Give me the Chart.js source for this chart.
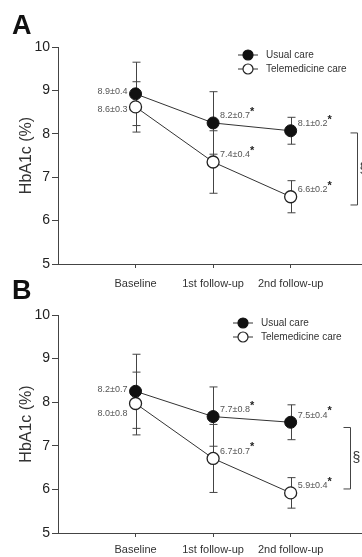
<!DOCTYPE html>
<html>
<head>
<meta charset="utf-8">
<script src="https://cdn.jsdelivr.net/npm/chart.js@4"></script>
<style>
  html, body { margin: 0; padding: 0; background: #fff; overflow: hidden; }
  #wrap { position: relative; width: 362px; height: 557px; }
  canvas { position: absolute; left: 0; }
  .tag { position: absolute; left: 12px; font: bold 27px "Liberation Sans", Arial, sans-serif; color: #111; line-height: 31px; }
</style>
</head>
<body>
<div id="wrap">
  <canvas id="chartA" width="362" height="300" style="top:0"></canvas>
  <canvas id="chartB" width="362" height="289" style="top:268px"></canvas>
  <div class="tag" style="top:10px">A</div>
  <div class="tag" style="top:275px">B</div>
</div>
<script>
const categories = ['Baseline', '1st follow-up', '2nd follow-up'];
const seriesNames = ['Usual care', 'Telemedicine care'];
const significant = [false, true, true];

// panel A
const usualA = [8.92, 8.25, 8.07];
const usualErrA = [0.73, 0.72, 0.31];
const teleA = [8.62, 7.35, 6.55];
const teleErrA = [0.58, 0.72, 0.37];
const usualLabelsA = ['8.9±0.4', '8.2±0.7', '8.1±0.2'];
const teleLabelsA = ['8.6±0.3', '7.4±0.4', '6.6±0.2'];
const bracketA = [8.02, 6.36];

// panel B
const usualB = [8.25, 7.67, 7.54];
const usualErrB = [0.85, 0.68, 0.40];
const teleB = [7.97, 6.71, 5.92];
const teleErrB = [0.72, 0.78, 0.35];
const usualLabelsB = ['8.2±0.7', '7.7±0.8', '7.5±0.4'];
const teleLabelsB = ['8.0±0.8', '6.7±0.7', '5.9±0.4'];
const bracketB = [7.42, 6.01];

const FONT = '"Liberation Sans", Arial, sans-serif';

const errorBars = {
  id: 'errorBars',
  beforeDatasetsDraw(chart) {
    const { ctx, scales: { x, y } } = chart;
    ctx.save();
    ctx.strokeStyle = '#444';
    ctx.lineWidth = 1;
    chart.data.datasets.forEach(ds => {
      ds.errors.forEach((e, i) => {
        const v = ds.data[i].y;
        const px = Math.round(x.getPixelForValue(i)) + 0.5;
        const hi = y.getPixelForValue(v + e), lo = y.getPixelForValue(v - e);
        ctx.beginPath();
        ctx.moveTo(px, hi); ctx.lineTo(px, lo);
        ctx.moveTo(px - 4, hi); ctx.lineTo(px + 4, hi);
        ctx.moveTo(px - 4, lo); ctx.lineTo(px + 4, lo);
        ctx.stroke();
      });
    });
    ctx.restore();
  }
};

const annotations = {
  id: 'annotations',
  afterDatasetsDraw(chart, args, opts) {
    const { ctx, scales: { x, y }, chartArea } = chart;
    ctx.save();
    // value labels
    chart.data.datasets.forEach((ds, di) => {
      ds.valueLabels.forEach((txt, i) => {
        const px = x.getPixelForValue(i), py = y.getPixelForValue(ds.data[i].y);
        ctx.font = '9px ' + FONT;
        ctx.fillStyle = '#555';
        ctx.textBaseline = 'middle';
        if (i === 0) {
          ctx.textAlign = 'right';
          ctx.fillText(txt, px - 8, py + (di === 0 ? -2 : opts.baseTeleDy));
        } else {
          ctx.textAlign = 'left';
          const tx = px + 7, ty = py - 7;
          ctx.fillText(txt, tx, ty);
          if (significant[i]) {
            const w = ctx.measureText(txt).width;
            ctx.font = 'bold 11px ' + FONT;
            ctx.fillStyle = '#222';
            ctx.fillText('*', tx + w, ty - 4);
          }
        }
      });
    });

    // legend
    const lx = opts.legendX;
    chart.data.datasets.forEach((ds, di) => {
      const ly = chartArea.top + 8 + di * 14;
      ctx.strokeStyle = '#333';
      ctx.lineWidth = 1;
      ctx.beginPath();
      ctx.moveTo(lx - 10, ly); ctx.lineTo(lx + 10, ly);
      ctx.stroke();
      ctx.beginPath();
      ctx.arc(lx, ly, 5, 0, Math.PI * 2);
      ctx.fillStyle = ds.pointBackgroundColor;
      ctx.fill();
      ctx.strokeStyle = ds.pointBorderColor;
      ctx.lineWidth = 1.2;
      ctx.stroke();
      ctx.font = '10px ' + FONT;
      ctx.fillStyle = '#333';
      ctx.textAlign = 'left';
      ctx.textBaseline = 'middle';
      ctx.fillText(ds.label, lx + 18, ly);
    });

    // significance bracket
    const bx = Math.round(x.getPixelForValue(opts.bracketX)) + 0.5;
    const bt = y.getPixelForValue(opts.bracket[0]), bb = y.getPixelForValue(opts.bracket[1]);
    ctx.strokeStyle = '#444';
    ctx.lineWidth = 1;
    ctx.beginPath();
    ctx.moveTo(bx - 7, bt); ctx.lineTo(bx, bt); ctx.lineTo(bx, bb); ctx.lineTo(bx - 7, bb);
    ctx.stroke();
    ctx.font = '14px ' + FONT;
    ctx.fillStyle = '#333';
    ctx.textAlign = 'left';
    ctx.textBaseline = 'middle';
    ctx.fillText('§', bx + 2, (bt + bb) / 2);
    ctx.restore();
  }
};

function buildPanel(id, p) {
  const toPts = arr => arr.map((v, i) => ({ x: i, y: v }));
  return new Chart(document.getElementById(id), {
    type: 'line',
    data: {
      datasets: [
        {
          label: seriesNames[0],
          data: toPts(p.usual),
          errors: p.usualErr,
          valueLabels: p.usualLabels,
          borderColor: '#333',
          borderWidth: 1,
          pointRadius: 6,
          pointBackgroundColor: '#111',
          pointBorderColor: '#111',
          pointBorderWidth: 1
        },
        {
          label: seriesNames[1],
          data: toPts(p.tele),
          errors: p.teleErr,
          valueLabels: p.teleLabels,
          borderColor: '#333',
          borderWidth: 1,
          pointRadius: 6,
          pointBackgroundColor: '#fff',
          pointBorderColor: '#222',
          pointBorderWidth: 1.3
        }
      ]
    },
    options: {
      responsive: false,
      animation: false,
      devicePixelRatio: 1,
      layout: { autoPadding: false, padding: { top: 47, left: 13, right: 0, bottom: 0 } },
      plugins: {
        legend: { display: false },
        tooltip: { enabled: false },
        annotations: { legendX: p.legendX, bracket: p.bracket, bracketX: p.bracketX, baseTeleDy: p.baseTeleDy }
      },
      scales: {
        x: {
          type: 'linear',
          min: -1,
          max: 2.92,
          afterBuildTicks: s => { s.ticks = categories.map((_, i) => ({ value: i })); },
          afterFit: s => { s.height = p.xHeight; s.paddingLeft = 0; s.paddingRight = 0; },
          grid: { drawOnChartArea: false, tickLength: 4, color: '#444' },
          border: { color: '#444' },
          ticks: {
            callback: v => categories[v],
            autoSkip: false,
            maxRotation: 0,
            padding: p.xPad,
            color: '#333',
            font: { size: 11, family: FONT }
          }
        },
        y: {
          min: 5,
          max: 10,
          afterFit: s => { s.width = 45; },
          grid: { drawOnChartArea: false, tickLength: 6, color: '#444' },
          border: { color: '#444' },
          ticks: { stepSize: 1, padding: 2, color: '#222', font: { size: 14, family: FONT } },
          title: {
            display: true,
            text: 'HbA1c (%)',
            color: '#333',
            padding: { top: 4, bottom: 0 },
            font: { size: 16, family: FONT }
          }
        }
      }
    },
    plugins: [errorBars, annotations]
  });
}

buildPanel('chartA', {
  usual: usualA, usualErr: usualErrA, usualLabels: usualLabelsA,
  tele: teleA, teleErr: teleErrA, teleLabels: teleLabelsA,
  bracket: bracketA, bracketX: 2.858, legendX: 248, baseTeleDy: 3,
  xHeight: 36, xPad: 9
});

buildPanel('chartB', {
  usual: usualB, usualErr: usualErrB, usualLabels: usualLabelsB,
  tele: teleB, teleErr: teleErrB, teleLabels: teleLabelsB,
  bracket: bracketB, bracketX: 2.768, legendX: 243, baseTeleDy: 10,
  xHeight: 24, xPad: 6
});
</script>
</body>
</html>
